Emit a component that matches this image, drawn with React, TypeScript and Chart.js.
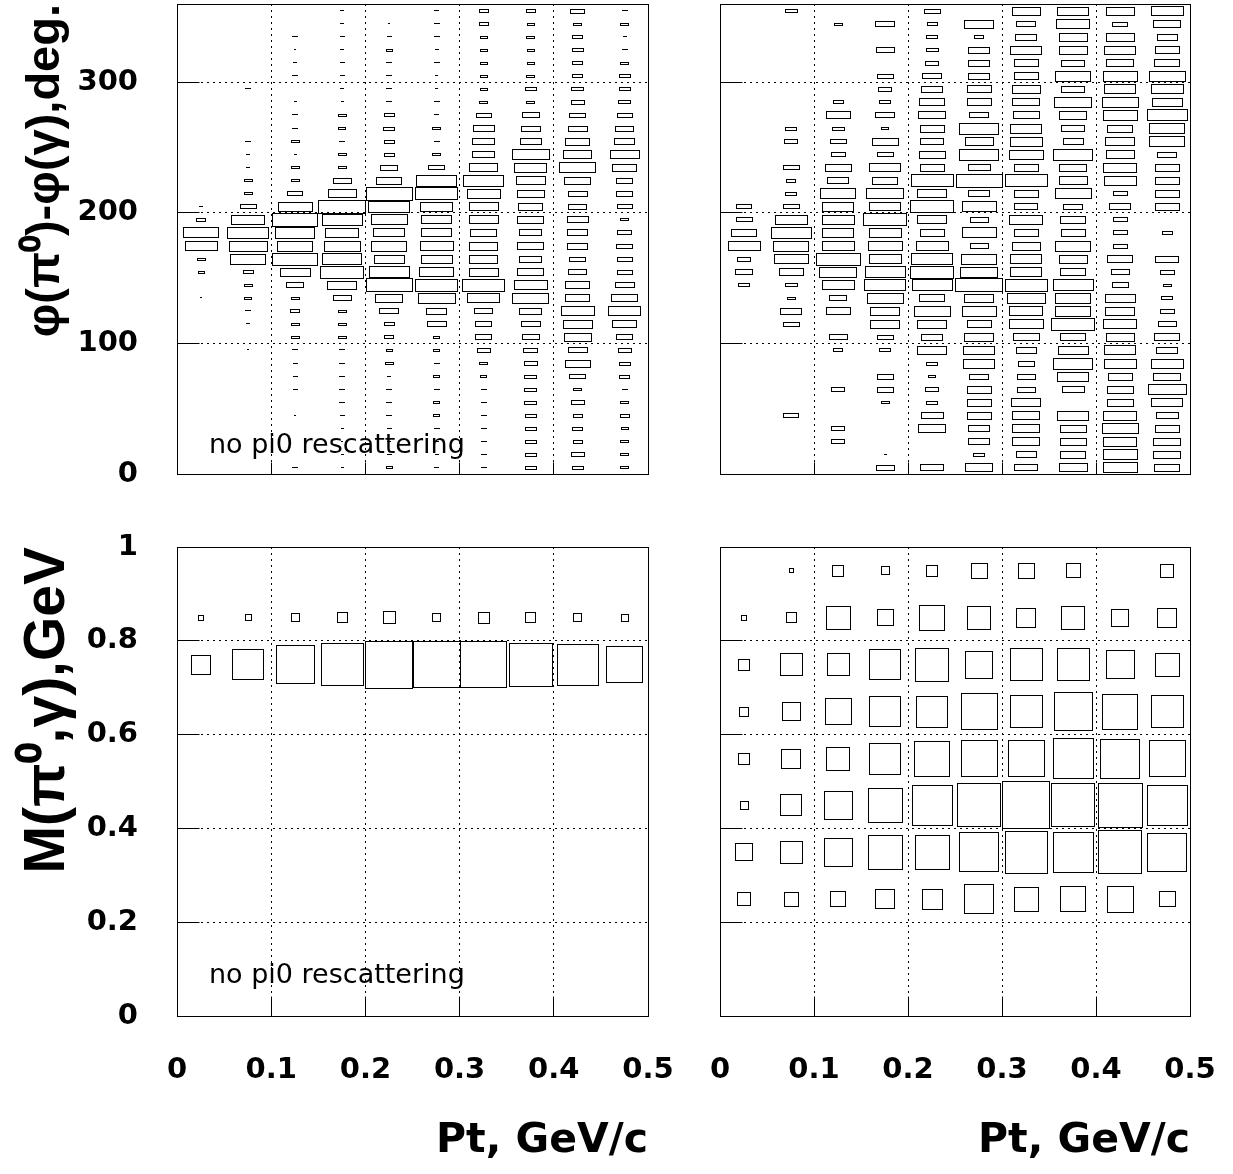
import React, { useEffect, useRef } from "react";
import { Chart, registerables } from "chart.js";

Chart.register(...registerables);

const FONT = "'Liberation Sans', Arial, Helvetica, sans-serif";
const WIDE_FONT = "'DejaVu Sans', 'Liberation Sans', Arial, sans-serif";

// ---------------- binning and tick labels ----------------
const ptBinCenters = [0.025, 0.075, 0.125, 0.175, 0.225, 0.275, 0.325, 0.375, 0.425, 0.475];
const ptBinWidth = 0.05;
const phiBinCenters = [5, 15, 25, 35, 45, 55, 65, 75, 85, 95, 105, 115, 125, 135, 145, 155, 165, 175, 185, 195, 205, 215, 225, 235, 245, 255, 265, 275, 285, 295, 305, 315, 325, 335, 345, 355];
const phiBinWidth = 10;
const massBinCenters = [0.05, 0.15, 0.25, 0.35, 0.45, 0.55, 0.65, 0.75, 0.85, 0.95];
const massBinWidth = 0.1;
const ptTicks = [0, 0.1, 0.2, 0.3, 0.4, 0.5];
const phiTicks = [0, 100, 200, 300];
const massTicks = [0, 0.2, 0.4, 0.6, 0.8, 1];

// ---------------- bin contents (relative, max = 100) ----------------
// phi difference, no pi0 rescattering: one row per Pt bin, values from phi = 5 to 355 deg
const phiNoRescattering = [
  [0, 0, 0, 0, 0, 0, 0, 0, 0, 0, 0, 0, 0, 3, 0, 13, 16, 69, 74, 20, 7, 0, 0, 0, 0, 0, 0, 0, 0, 0, 0, 0, 0, 0, 0, 0],
  [0, 0, 0, 0, 0, 0, 0, 0, 0, 2, 0, 7, 10, 14, 16, 21, 75, 80, 88, 70, 34, 18, 18, 6, 6, 10, 0, 0, 0, 10, 0, 0, 0, 0, 0, 0],
  [10, 0, 0, 0, 2, 0, 9, 9, 9, 10, 16, 16, 20, 16, 37, 64, 95, 74, 82, 96, 72, 31, 18, 16, 4, 16, 10, 10, 4, 0, 10, 6, 2, 10, 0, 0],
  [4, 4, 3, 5, 8, 10, 11, 11, 11, 11, 16, 16, 17, 38, 61, 92, 82, 77, 71, 85, 100, 60, 38, 18, 18, 10, 14, 16, 4, 6, 8, 8, 6, 8, 7, 7],
  [13, 9, 6, 8, 10, 10, 10, 7, 16, 13, 20, 21, 40, 58, 98, 84, 64, 74, 65, 77, 87, 98, 53, 37, 21, 21, 23, 21, 11, 11, 11, 10, 13, 8, 2, 0],
  [8, 7, 8, 10, 13, 13, 11, 13, 11, 13, 13, 40, 43, 78, 89, 72, 65, 71, 64, 64, 67, 89, 84, 34, 16, 10, 16, 8, 10, 4, 4, 10, 6, 11, 10, 8],
  [10, 10, 10, 10, 10, 10, 10, 13, 18, 28, 35, 35, 39, 67, 89, 62, 60, 60, 56, 62, 62, 70, 85, 60, 47, 47, 44, 32, 18, 15, 15, 14, 14, 14, 20, 20],
  [23, 23, 23, 24, 24, 25, 25, 26, 27, 30, 37, 40, 47, 77, 70, 55, 47, 55, 47, 55, 50, 57, 61, 68, 78, 44, 41, 37, 18, 23, 18, 14, 14, 17, 14, 20],
  [24, 28, 20, 21, 20, 28, 18, 34, 54, 40, 58, 61, 71, 52, 50, 38, 34, 43, 43, 45, 38, 40, 55, 77, 60, 50, 41, 34, 28, 26, 21, 21, 23, 21, 16, 30],
  [18, 18, 17, 14, 20, 18, 10, 21, 24, 28, 35, 50, 67, 55, 41, 31, 31, 33, 30, 17, 31, 35, 35, 51, 61, 43, 38, 31, 26, 24, 24, 16, 10, 6, 18, 10],
];

// phi difference, with rescattering
const phiRescattering = [
  [0, 0, 0, 0, 0, 0, 0, 0, 0, 0, 0, 0, 0, 0, 23, 36, 28, 68, 54, 33, 31, 0, 0, 0, 0, 0, 0, 0, 0, 0, 0, 0, 0, 0, 0, 0],
  [0, 0, 0, 0, 32, 0, 0, 0, 0, 0, 0, 33, 44, 18, 25, 52, 72, 75, 85, 68, 34, 23, 20, 34, 0, 27, 24, 0, 0, 0, 0, 0, 0, 0, 0, 25],
  [0, 0, 28, 28, 0, 0, 28, 0, 0, 20, 38, 0, 52, 37, 68, 78, 94, 68, 67, 68, 67, 75, 45, 55, 30, 34, 26, 51, 21, 0, 0, 0, 0, 0, 16, 0],
  [38, 4, 0, 0, 0, 16, 35, 35, 0, 23, 34, 61, 61, 77, 87, 85, 68, 72, 68, 91, 65, 79, 54, 65, 33, 55, 14, 40, 23, 27, 33, 0, 38, 0, 41, 0],
  [48, 0, 0, 58, 47, 24, 28, 14, 24, 62, 44, 61, 77, 54, 85, 91, 88, 68, 52, 61, 92, 62, 89, 51, 55, 48, 51, 57, 54, 45, 40, 28, 26, 24, 21, 34],
  [58, 23, 44, 44, 52, 51, 51, 40, 67, 65, 61, 52, 73, 62, 100, 79, 75, 38, 73, 39, 73, 44, 98, 47, 82, 60, 82, 41, 51, 51, 44, 44, 45, 20, 62, 0],
  [48, 43, 58, 58, 58, 62, 38, 39, 35, 43, 56, 72, 70, 80, 90, 67, 67, 60, 52, 71, 49, 50, 90, 52, 72, 69, 67, 56, 57, 59, 50, 51, 65, 44, 41, 59],
  [60, 54, 55, 55, 66, 0, 46, 66, 82, 64, 54, 92, 74, 74, 85, 54, 59, 74, 51, 54, 40, 77, 59, 57, 84, 43, 49, 58, 79, 49, 74, 49, 60, 59, 71, 65],
  [73, 73, 70, 77, 70, 55, 55, 50, 69, 66, 59, 70, 62, 64, 35, 38, 54, 30, 30, 30, 45, 30, 69, 70, 60, 62, 54, 73, 77, 67, 73, 57, 65, 60, 32, 60],
  [54, 57, 57, 51, 47, 65, 80, 57, 68, 45, 54, 39, 30, 24, 18, 30, 49, 0, 21, 0, 52, 52, 52, 51, 41, 74, 74, 85, 64, 68, 76, 54, 52, 43, 57, 69],
];

// invariant mass, no pi0 rescattering: one row per Pt bin, values from M = 0.05 to 0.95 GeV
const massNoRescattering = [
  [0, 0, 0, 0, 0, 0, 0, 40, 11, 0],
  [0, 0, 0, 0, 0, 0, 0, 65, 13, 0],
  [0, 0, 0, 0, 0, 0, 0, 81, 17, 0],
  [0, 0, 0, 0, 0, 0, 0, 90, 21, 0],
  [0, 0, 0, 0, 0, 0, 0, 100, 25, 0],
  [0, 0, 0, 0, 0, 0, 0, 99, 18, 0],
  [0, 0, 0, 0, 0, 0, 0, 98, 23, 0],
  [0, 0, 0, 0, 0, 0, 0, 91, 21, 0],
  [0, 0, 0, 0, 0, 0, 0, 87, 17, 0],
  [0, 0, 0, 0, 0, 0, 0, 76, 15, 0],
];

// invariant mass, with rescattering
const massRescattering = [
  [0, 0, 27, 36, 18, 24, 20, 23, 11, 0],
  [0, 0, 30, 46, 44, 41, 38, 46, 22, 8],
  [0, 0, 32, 60, 60, 49, 55, 46, 50, 24],
  [0, 0, 40, 73, 73, 67, 65, 65, 34, 17],
  [0, 0, 43, 72, 85, 75, 67, 70, 54, 24],
  [0, 0, 61, 84, 91, 77, 76, 57, 49, 33],
  [0, 0, 51, 89, 100, 77, 69, 69, 41, 33],
  [0, 0, 53, 86, 91, 86, 81, 68, 48, 30],
  [0, 0, 55, 91, 93, 83, 75, 60, 36, 0],
  [0, 0, 33, 82, 85, 77, 68, 50, 40, 27],
];

const noteText = "no pi0 rescattering";
const phiTitle = "\u03c6(\u03c0\u2070)-\u03c6(\u03b3),deg.";
const massTitle = "M(\u03c0\u2070,\u03b3),GeV";
const ptTitle = "Pt, GeV/c";

type Cell = { x: number; y: number; v: number };

function toCells(table: number[][], rowCenters: number[]): Cell[] {
  const out: Cell[] = [];
  table.forEach((col, i) => {
    col.forEach((v, k) => {
      if (v > 0) out.push({ x: ptBinCenters[i], y: rowCenters[k], v });
    });
  });
  return out;
}

type PanelCfg = {
  cells: Cell[];
  yMax: number;
  yTicks: number[];
  yBin: number;
  showYLabels: boolean;
  showXLabels: boolean;
  yTitle?: string;
  yTitleSize?: number;
  yTitlePad?: number;
  xTitle?: string;
  padding: { left: number; top: number; right: number; bottom: number };
  yAxisWidth: number;
  xAxisHeight: number;
  xTickLen: number;
  yTickLen: number;
  note?: { dx: number; dy: number };
};

const fmt = (v: number) => String(Number(Number(v).toFixed(2)));

function makePlugin(cfg: PanelCfg) {
  return {
    id: "rootBoxes",
    afterDatasetsDraw(chart: any) {
      const ctx = chart.ctx as CanvasRenderingContext2D;
      const xs = chart.scales.x;
      const ys = chart.scales.y;
      const ds = chart.data.datasets[0];
      const meta = chart.getDatasetMeta(0);
      const bw = Math.abs(xs.getPixelForValue(ptBinWidth) - xs.getPixelForValue(0));
      const bh = Math.abs(ys.getPixelForValue(cfg.yBin) - ys.getPixelForValue(0));
      const vmax = Math.max(...ds.data.map((d: Cell) => d.v));
      ctx.save();
      ctx.strokeStyle = "#000";
      ctx.fillStyle = "#000";
      ctx.lineWidth = 1;
      meta.data.forEach((el: any, i: number) => {
        const d: Cell = ds.data[i];
        const f = d.v / vmax;
        const w = Math.max(1, Math.round(bw * f));
        const h = Math.max(1, Math.round(bh * f));
        const x0 = Math.round(el.x - w / 2);
        const y0 = Math.round(el.y - h / 2);
        if (w < 2 || h < 2) {
          ctx.fillRect(x0, y0, w + 1, h);
        } else {
          ctx.strokeRect(x0 + 0.5, y0 + 0.5, w, h);
        }
      });
      ctx.restore();
    },
    afterDraw(chart: any) {
      const ctx = chart.ctx as CanvasRenderingContext2D;
      const { left, right, top, bottom } = chart.chartArea;
      const xs = chart.scales.x;
      const ys = chart.scales.y;
      const a = (p: number) => Math.round(p - 0.5) + 0.5;
      ctx.save();
      ctx.strokeStyle = "#000";
      ctx.lineWidth = 1;
      ctx.setLineDash([]);
      ctx.strokeRect(a(left), a(top), a(right) - a(left), a(bottom) - a(top));
      ctx.beginPath();
      ptTicks.forEach((v) => {
        if (v <= 0 || v >= 0.5) return;
        const px = a(xs.getPixelForValue(v));
        ctx.moveTo(px, a(bottom));
        ctx.lineTo(px, a(bottom) - cfg.xTickLen);
      });
      cfg.yTicks.forEach((v) => {
        if (v <= 0 || v >= cfg.yMax) return;
        const py = a(ys.getPixelForValue(v));
        ctx.moveTo(a(left), py);
        ctx.lineTo(a(left) + cfg.yTickLen, py);
      });
      ctx.stroke();
      if (cfg.note) {
        ctx.fillStyle = "#000";
        ctx.font = `27px ${WIDE_FONT}`;
        ctx.textBaseline = "alphabetic";
        ctx.textAlign = "left";
        ctx.fillText(noteText, left + cfg.note.dx, bottom - cfg.note.dy);
      }
      ctx.restore();
    },
  };
}

function buildConfig(cfg: PanelCfg): any {
  const tickFont = { family: WIDE_FONT, size: 29, weight: "bold" as const };
  return {
    type: "scatter",
    data: {
      datasets: [
        {
          data: cfg.cells,
          pointRadius: 0,
          pointHoverRadius: 0,
          pointHitRadius: 0,
          showLine: false,
        },
      ],
    },
    options: {
      animation: false,
      responsive: false,
      devicePixelRatio: 1,
      events: [],
      layout: { padding: cfg.padding },
      plugins: {
        legend: { display: false },
        tooltip: { enabled: false },
        title: { display: false },
      },
      scales: {
        x: {
          type: "linear",
          position: "bottom",
          min: 0,
          max: 0.5,
          afterBuildTicks: (s: any) => {
            s.ticks = ptTicks.map((v) => ({ value: v }));
          },
          afterFit: (s: any) => {
            s.height = cfg.xAxisHeight;
            s.paddingLeft = 0;
            s.paddingRight = 0;
          },
          ticks: {
            display: cfg.showXLabels,
            autoSkip: false,
            maxRotation: 0,
            minRotation: 0,
            padding: 37,
            color: "#000",
            font: tickFont,
            callback: (v: any) => fmt(v),
          },
          grid: { display: true, color: "#000", lineWidth: 1, drawTicks: false, drawOnChartArea: true },
          border: { display: false, dash: [2, 4] },
          title: {
            display: !!cfg.xTitle,
            text: cfg.xTitle || "",
            align: "end",
            color: "#000",
            font: { family: WIDE_FONT, size: 41, weight: "bold" },
            padding: { top: 0, bottom: 8 },
          },
        },
        y: {
          type: "linear",
          position: "left",
          min: 0,
          max: cfg.yMax,
          afterBuildTicks: (s: any) => {
            s.ticks = cfg.yTicks.map((v) => ({ value: v }));
          },
          afterFit: (s: any) => {
            s.width = cfg.yAxisWidth;
            s.paddingTop = 0;
            s.paddingBottom = 0;
          },
          ticks: {
            display: cfg.showYLabels,
            autoSkip: false,
            padding: 39,
            color: "#000",
            font: tickFont,
            callback: (v: any) => fmt(v),
          },
          grid: { display: true, color: "#000", lineWidth: 1, drawTicks: false, drawOnChartArea: true },
          border: { display: false, dash: [2, 4] },
          title: {
            display: !!cfg.yTitle,
            text: cfg.yTitle || "",
            align: "end",
            color: "#000",
            font: { family: FONT, size: cfg.yTitleSize || 52, weight: "bold" },
            padding: { top: cfg.yTitlePad || 0, bottom: 0 },
          },
        },
      },
    },
    plugins: [makePlugin(cfg)],
  };
}

const W = 1233;
const H = 1174;

const panels: PanelCfg[] = [
  {
    cells: toCells(phiNoRescattering, phiBinCenters),
    yMax: 360,
    yTicks: phiTicks,
    yBin: phiBinWidth,
    showYLabels: true,
    showXLabels: false,
    yTitle: phiTitle,
    yTitleSize: 47,
    yTitlePad: 18,
    padding: { left: 0, top: 4, right: 585, bottom: 690 },
    yAxisWidth: 177,
    xAxisHeight: 10,
    xTickLen: 12,
    yTickLen: 22,
    note: { dx: 32, dy: 21 },
  },
  {
    cells: toCells(phiRescattering, phiBinCenters),
    yMax: 360,
    yTicks: phiTicks,
    yBin: phiBinWidth,
    showYLabels: false,
    showXLabels: false,
    padding: { left: 0, top: 4, right: 43, bottom: 690 },
    yAxisWidth: 720,
    xAxisHeight: 10,
    xTickLen: 12,
    yTickLen: 22,
  },
  {
    cells: toCells(massNoRescattering, massBinCenters),
    yMax: 1,
    yTicks: massTicks,
    yBin: massBinWidth,
    showYLabels: true,
    showXLabels: true,
    yTitle: massTitle,
    yTitleSize: 57,
    yTitlePad: 14,
    xTitle: ptTitle,
    padding: { left: 0, top: 547, right: 585, bottom: 0 },
    yAxisWidth: 177,
    xAxisHeight: 158,
    xTickLen: 20,
    yTickLen: 22,
    note: { dx: 32, dy: 33 },
  },
  {
    cells: toCells(massRescattering, massBinCenters),
    yMax: 1,
    yTicks: massTicks,
    yBin: massBinWidth,
    showYLabels: false,
    showXLabels: true,
    xTitle: ptTitle,
    padding: { left: 0, top: 547, right: 43, bottom: 0 },
    yAxisWidth: 720,
    xAxisHeight: 158,
    xTickLen: 20,
    yTickLen: 22,
  },
];

function Panel({ cfg }: { cfg: PanelCfg }) {
  const ref = useRef<HTMLCanvasElement>(null);
  useEffect(() => {
    if (!ref.current) return;
    const chart = new Chart(ref.current, buildConfig(cfg));
    return () => chart.destroy();
  }, [cfg]);
  return (
    <canvas
      ref={ref}
      width={W}
      height={H}
      style={{ position: "absolute", left: 0, top: 0, width: W, height: H }}
    />
  );
}

export default function App() {
  return (
    <div style={{ position: "absolute", left: 0, top: 0, width: W, height: H, background: "#fff", overflow: "hidden" }}>
      {panels.map((p, i) => (
        <Panel key={i} cfg={p} />
      ))}
    </div>
  );
}
